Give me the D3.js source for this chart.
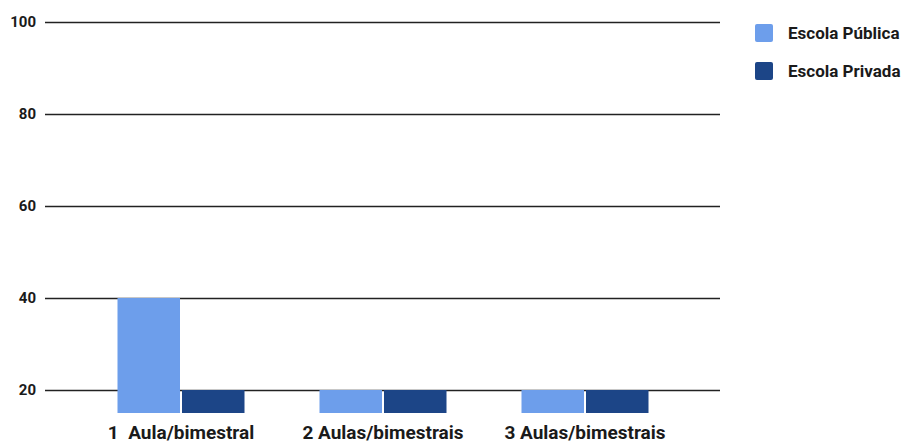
<!DOCTYPE html>
<html>
<head>
<meta charset="utf-8">
<script src="https://cdn.jsdelivr.net/npm/d3@7"></script>
<style>
  body { margin: 0; background: #fff; }
  svg { font-family: Roboto, sans-serif; }
</style>
</head>
<body>
<div id="app"></div>
<script>
'use strict'
const categories = ['1  Aula/bimestral', '2 Aulas/bimestrais', '3 Aulas/bimestrais']
const series = ['Escola Pública', 'Escola Privada']
const publica = [40, 20, 20]
const privada = [20, 20, 20]
const yTicks = [20, 40, 60, 80, 100]
const colors = ['#6d9eeb', '#1c4587']

const width = 901
const height = 444

const svg = d3.select('#app').append('svg')
  .attr('width', width)
  .attr('height', height)

const yScale = d3.scaleLinear()
  .domain([15, 100])
  .range([413, 22])

const xScale = d3.scaleBand()
  .domain(categories)
  .range([80, 686])

const inner = d3.scaleBand()
  .domain(series)
  .range([36.5, xScale.bandwidth() - 36.5])

// gridlines + y labels
const yAxis = svg.append('g')
  .attr('transform', 'translate(45, 0)')
  .call(d3.axisLeft(yScale).tickValues(yTicks).tickSize(-675).tickPadding(9))
yAxis.select('.domain').remove()
yAxis.selectAll('line').attr('stroke', '#222').attr('stroke-width', 1.3)
yAxis.selectAll('text')
  .attr('fill', '#1a1a1a')
  .style('font-size', '15px')
  .style('font-weight', 'bold')
  .style('font-family', 'Roboto, sans-serif')

const rows = categories.map((c, i) => ({ cat: c, values: [publica[i], privada[i]] }))

const groups = svg.append('g').selectAll('g')
  .data(rows)
  .enter()
  .append('g')
  .attr('transform', d => `translate(${xScale(d.cat)}, 0)`)

groups.selectAll('rect')
  .data(d => d.values.map((v, j) => ({ key: series[j], v, j })))
  .enter()
  .append('rect')
  .attr('x', d => inner(d.key) + 1)
  .attr('width', inner.bandwidth() - 2)
  .attr('y', d => yScale(d.v))
  .attr('height', d => yScale(15) - yScale(d.v))
  .attr('fill', d => colors[d.j])

// category labels
svg.append('g').selectAll('text')
  .data(categories)
  .enter()
  .append('text')
  .attr('x', d => xScale(d) + xScale.bandwidth() / 2)
  .attr('y', 439)
  .attr('text-anchor', 'middle')
  .attr('fill', '#1a1a1a')
  .style('font-size', '19px')
  .style('font-weight', 'bold')
  .style('white-space', 'pre')
  .text(d => d)

// legend
const legend = svg.append('g').selectAll('g')
  .data(series)
  .enter()
  .append('g')
  .attr('transform', (d, i) => `translate(755, ${24 + i * 38})`)

legend.append('rect')
  .attr('width', 18)
  .attr('height', 18)
  .attr('rx', 2)
  .attr('fill', (d, i) => colors[i])

legend.append('text')
  .attr('x', 33)
  .attr('y', 15)
  .attr('fill', '#1a1a1a')
  .style('font-size', '17px')
  .style('font-weight', 'bold')
  .text(d => d)
</script>
</body>
</html>
